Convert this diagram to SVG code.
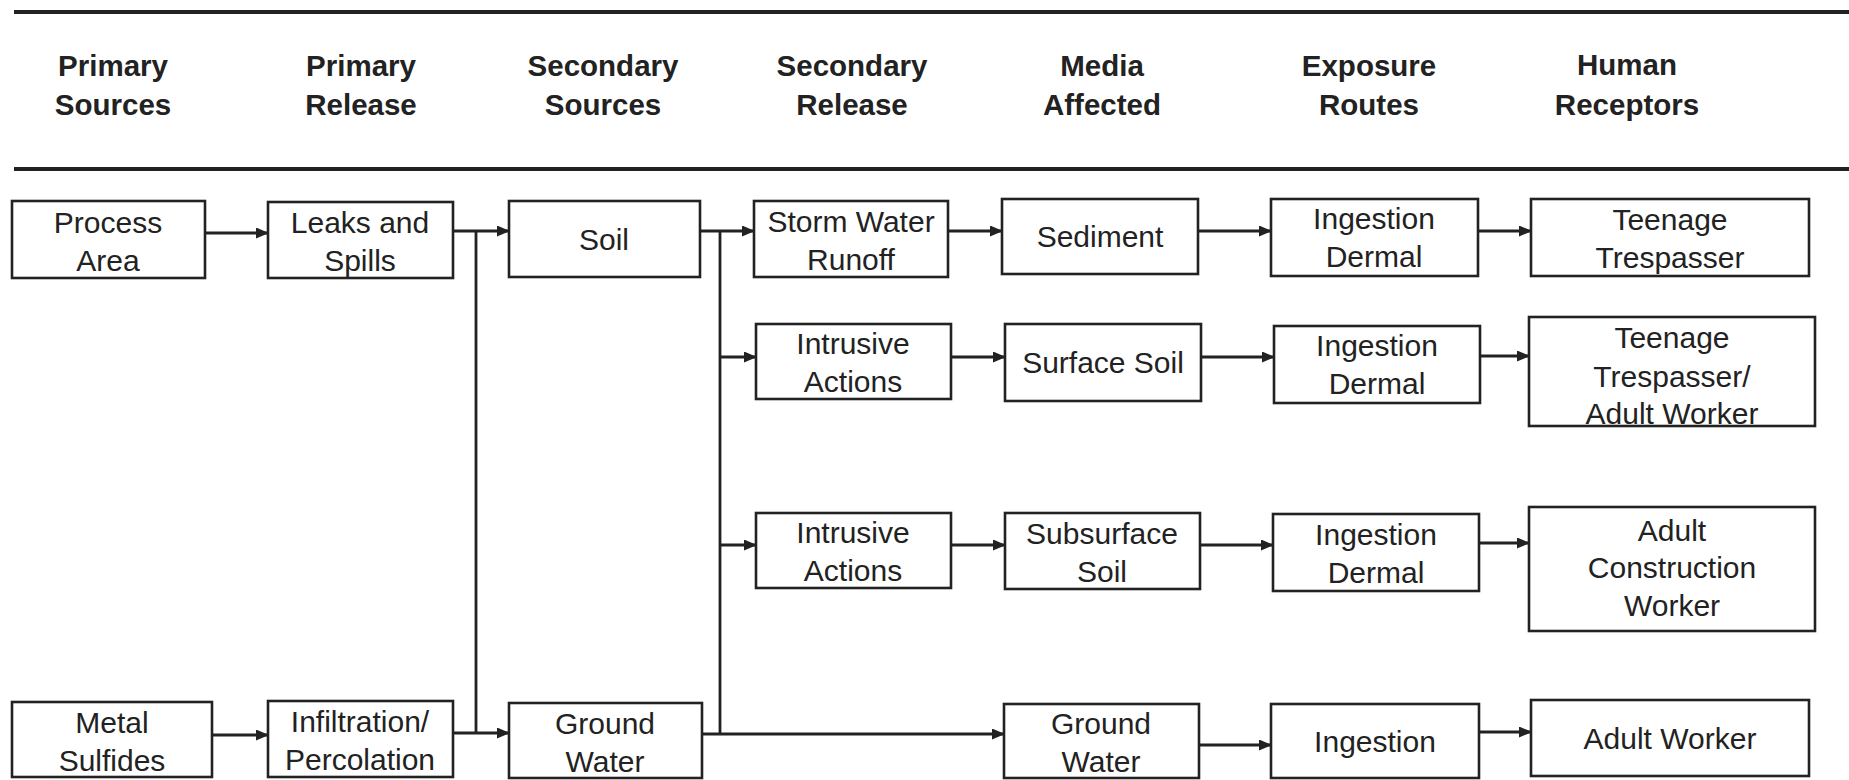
<svg xmlns="http://www.w3.org/2000/svg" width="1849" height="780" viewBox="0 0 1849 780">
<style>
.bg{fill:#ffffff}
.rule{stroke:#222;stroke-width:4;fill:none}
.box{fill:#ffffff;stroke:#222;stroke-width:2.6}
.hd{font-family:"Liberation Sans",Arial,sans-serif;font-weight:bold;font-size:29.5px;fill:#222;text-anchor:middle}
.tx{font-family:"Liberation Sans",Arial,sans-serif;font-size:30px;fill:#222;text-anchor:middle}
.cn{stroke:#222;stroke-width:2.8;fill:none}
.ar{marker-end:url(#ah)}
</style>
<defs>
<marker id="ah" markerWidth="13" markerHeight="11" refX="12" refY="5.5" orient="auto" markerUnits="userSpaceOnUse">
<path d="M0,0 L13,5.5 L0,11 z" fill="#222"/>
</marker>
</defs>
<rect class="bg" x="0" y="0" width="1849" height="780"/>
<g id="header">
<line class="rule" x1="14" y1="12" x2="1849" y2="12"/>
<line class="rule" x1="14" y1="169" x2="1849" y2="169"/>
<text class="hd" x="113" y="76">Primary</text><text class="hd" x="113" y="115">Sources</text>
<text class="hd" x="361" y="76">Primary</text><text class="hd" x="361" y="115">Release</text>
<text class="hd" x="603" y="76">Secondary</text><text class="hd" x="603" y="115">Sources</text>
<text class="hd" x="852" y="76">Secondary</text><text class="hd" x="852" y="115">Release</text>
<text class="hd" x="1102" y="76">Media</text><text class="hd" x="1102" y="115">Affected</text>
<text class="hd" x="1369" y="76">Exposure</text><text class="hd" x="1369" y="115">Routes</text>
<text class="hd" x="1627" y="75">Human</text><text class="hd" x="1627" y="115">Receptors</text>
</g>
<g id="connectors">
<path class="cn ar" d="M205,233 H268"/>
<path class="cn ar" d="M453,231 H509"/>
<path class="cn" d="M476,231 V733"/>
<path class="cn ar" d="M212,735 H268"/>
<path class="cn ar" d="M453,733 H509"/>
<path class="cn ar" d="M700,231 H754"/>
<path class="cn" d="M720,231 V734"/>
<path class="cn ar" d="M720,357 H756"/>
<path class="cn ar" d="M720,545 H756"/>
<path class="cn ar" d="M702,734 H1004"/>
<path class="cn ar" d="M948,231 H1002"/>
<path class="cn ar" d="M951,357 H1005"/>
<path class="cn ar" d="M951,545 H1005"/>
<path class="cn ar" d="M1198,231 H1271"/>
<path class="cn ar" d="M1201,357 H1274"/>
<path class="cn ar" d="M1200,545 H1273"/>
<path class="cn ar" d="M1199,745 H1271"/>
<path class="cn ar" d="M1478,231 H1531"/>
<path class="cn ar" d="M1480,356 H1529"/>
<path class="cn ar" d="M1479,543 H1529"/>
<path class="cn ar" d="M1479,732 H1531"/>
</g>
<g id="process-area"><rect class="box" x="12" y="201" width="193" height="77"/><text class="tx" x="108" y="233">Process</text><text class="tx" x="108" y="271">Area</text></g>
<g id="leaks-spills"><rect class="box" x="268" y="202" width="185" height="76"/><text class="tx" x="360" y="233">Leaks and</text><text class="tx" x="360" y="271">Spills</text></g>
<g id="soil"><rect class="box" x="509" y="201" width="191" height="76"/><text class="tx" x="604" y="250">Soil</text></g>
<g id="storm-water"><rect class="box" x="754" y="201" width="194" height="76"/><text class="tx" x="851" y="232">Storm Water</text><text class="tx" x="851" y="270">Runoff</text></g>
<g id="sediment"><rect class="box" x="1002" y="199" width="196" height="75"/><text class="tx" x="1100" y="247">Sediment</text></g>
<g id="ingestion-dermal-1"><rect class="box" x="1271" y="199" width="207" height="77"/><text class="tx" x="1374" y="229">Ingestion</text><text class="tx" x="1374" y="267">Dermal</text></g>
<g id="teenage-trespasser"><rect class="box" x="1531" y="199" width="278" height="77"/><text class="tx" x="1670" y="230">Teenage</text><text class="tx" x="1670" y="268">Trespasser</text></g>

<g id="intrusive-actions-1"><rect class="box" x="756" y="324" width="195" height="75"/><text class="tx" x="853" y="354">Intrusive</text><text class="tx" x="853" y="392">Actions</text></g>
<g id="surface-soil"><rect class="box" x="1005" y="324" width="196" height="77"/><text class="tx" x="1103" y="373">Surface Soil</text></g>
<g id="ingestion-dermal-2"><rect class="box" x="1274" y="326" width="206" height="77"/><text class="tx" x="1377" y="356">Ingestion</text><text class="tx" x="1377" y="394">Dermal</text></g>
<g id="teen-adult"><rect class="box" x="1529" y="317" width="286" height="109"/><text class="tx" x="1672" y="348">Teenage</text><text class="tx" x="1672" y="387">Trespasser/</text><text class="tx" x="1672" y="424">Adult Worker</text></g>

<g id="intrusive-actions-2"><rect class="box" x="756" y="513" width="195" height="75"/><text class="tx" x="853" y="543">Intrusive</text><text class="tx" x="853" y="581">Actions</text></g>
<g id="subsurface-soil"><rect class="box" x="1005" y="513" width="195" height="76"/><text class="tx" x="1102" y="544">Subsurface</text><text class="tx" x="1102" y="582">Soil</text></g>
<g id="ingestion-dermal-3"><rect class="box" x="1273" y="514" width="206" height="77"/><text class="tx" x="1376" y="545">Ingestion</text><text class="tx" x="1376" y="583">Dermal</text></g>
<g id="adult-construction"><rect class="box" x="1529" y="507" width="286" height="124"/><text class="tx" x="1672" y="541">Adult</text><text class="tx" x="1672" y="578">Construction</text><text class="tx" x="1672" y="616">Worker</text></g>

<g id="metal-sulfides"><rect class="box" x="12" y="702" width="200" height="75"/><text class="tx" x="112" y="733">Metal</text><text class="tx" x="112" y="771">Sulfides</text></g>
<g id="infiltration"><rect class="box" x="268" y="701" width="185" height="76"/><text class="tx" x="360" y="732">Infiltration/</text><text class="tx" x="360" y="770">Percolation</text></g>
<g id="ground-water-src"><rect class="box" x="509" y="703" width="193" height="75"/><text class="tx" x="605" y="734">Ground</text><text class="tx" x="605" y="772">Water</text></g>
<g id="ground-water-media"><rect class="box" x="1004" y="704" width="195" height="74"/><text class="tx" x="1101" y="734">Ground</text><text class="tx" x="1101" y="772">Water</text></g>
<g id="ingestion-4"><rect class="box" x="1271" y="704" width="208" height="74"/><text class="tx" x="1375" y="752">Ingestion</text></g>
<g id="adult-worker"><rect class="box" x="1531" y="700" width="278" height="76"/><text class="tx" x="1670" y="749">Adult Worker</text></g>
</svg>
